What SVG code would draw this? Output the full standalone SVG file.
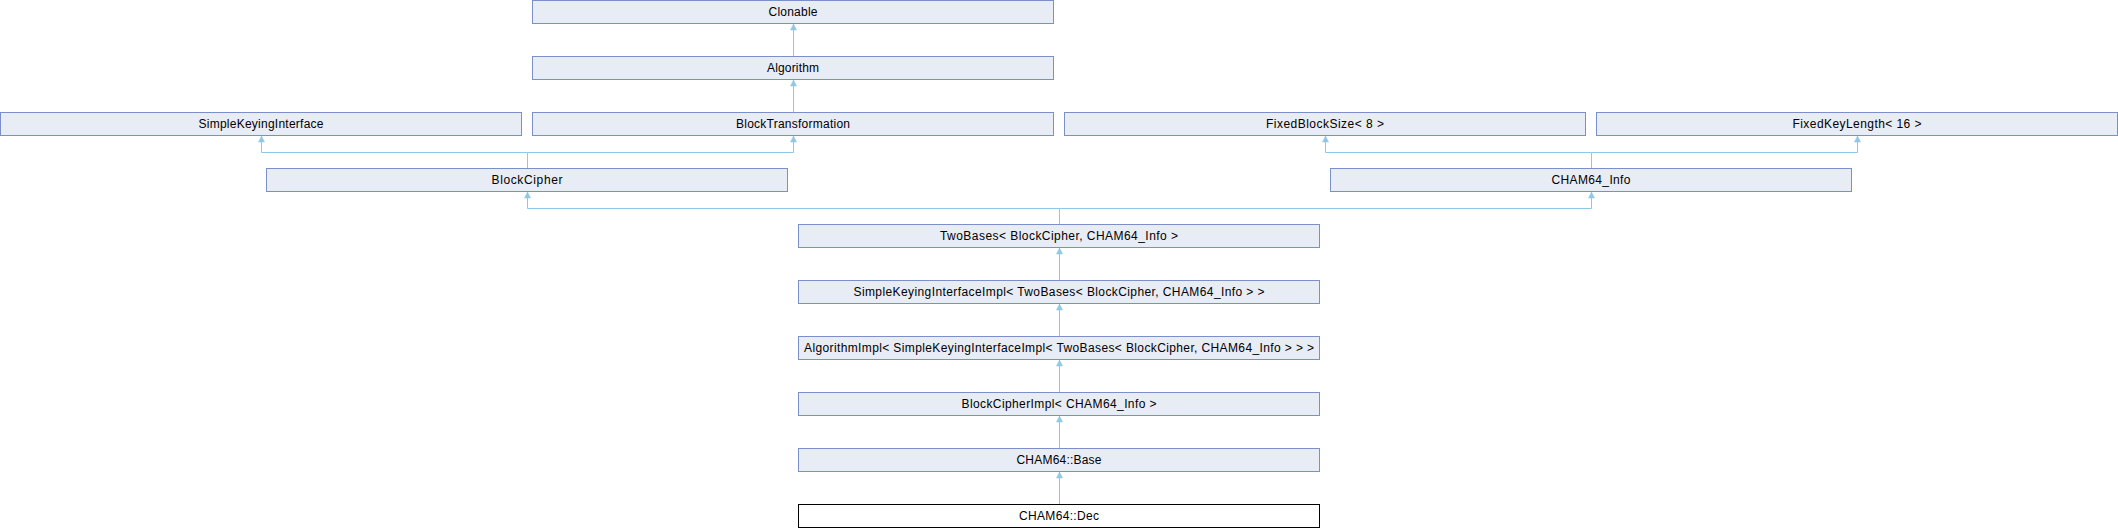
<svg xmlns="http://www.w3.org/2000/svg" width="2118" height="528" viewBox="0 0 2118 528">
<style>
.n rect{fill:#E8ECF4;stroke:#7B8FC8;stroke-width:1}
.n.cur rect{fill:#FFFFFF;stroke:#000000}
.n text{font-family:"Liberation Sans",Arial,sans-serif;font-size:12px;fill:#000;text-anchor:middle}
.e path{fill:none;stroke:#8DC8E8;stroke-width:1;marker-end:url(#ah)}
.e path.nm{marker-end:none}
</style>
<defs>
<marker id="ah" markerUnits="userSpaceOnUse" markerWidth="8" markerHeight="8" viewBox="0 0 8 8" refX="7" refY="4" orient="auto">
<path d="M1,1 L7,4 L1,7 z" fill="#8DC8E8" stroke="#8DC8E8" stroke-width="0.5"/>
</marker>
</defs>
<rect width="2118" height="528" fill="#FFFFFF"/>
<g id="connectors" class="e">
<path d="M793.5,56 V24"/>
<path d="M793.5,112 V80"/>
<path d="M527.5,168 V152.5 H261.5 V136"/>
<path d="M527.5,152.5 H793.5 V136"/>
<path d="M1591.5,168 V152.5 H1325.5 V136"/>
<path d="M1591.5,152.5 H1857.5 V136"/>
<path d="M1059.5,224 V208.5 H527.5 V192"/>
<path d="M1059.5,208.5 H1591.5 V192"/>
<path d="M1059.5,280 V248"/>
<path d="M1059.5,336 V304"/>
<path d="M1059.5,392 V360"/>
<path d="M1059.5,448 V416"/>
<path d="M1059.5,504 V472"/>
</g>
<g id="clonable" class="n"><rect x="532.5" y="0.5" width="521" height="23"/><text x="793" y="15.5" textLength="49">Clonable</text></g>
<g id="algorithm" class="n"><rect x="532.5" y="56.5" width="521" height="23"/><text x="793" y="71.5" textLength="52">Algorithm</text></g>
<g id="simplekeyinginterface" class="n"><rect x="0.5" y="112.5" width="521" height="23"/><text x="261" y="127.5" textLength="125">SimpleKeyingInterface</text></g>
<g id="blocktransformation" class="n"><rect x="532.5" y="112.5" width="521" height="23"/><text x="793" y="127.5" textLength="114">BlockTransformation</text></g>
<g id="fixedblocksize" class="n"><rect x="1064.5" y="112.5" width="521" height="23"/><text x="1325" y="127.5" textLength="118">FixedBlockSize&lt; 8 &gt;</text></g>
<g id="fixedkeylength" class="n"><rect x="1596.5" y="112.5" width="521" height="23"/><text x="1857" y="127.5" textLength="129">FixedKeyLength&lt; 16 &gt;</text></g>
<g id="blockcipher" class="n"><rect x="266.5" y="168.5" width="521" height="23"/><text x="527" y="183.5" textLength="71">BlockCipher</text></g>
<g id="cham64_info" class="n"><rect x="1330.5" y="168.5" width="521" height="23"/><text x="1591" y="183.5" textLength="79">CHAM64_Info</text></g>
<g id="twobases" class="n"><rect x="798.5" y="224.5" width="521" height="23"/><text x="1059" y="239.5" textLength="238">TwoBases&lt; BlockCipher, CHAM64_Info &gt;</text></g>
<g id="simplekeyinginterfaceimpl" class="n"><rect x="798.5" y="280.5" width="521" height="23"/><text x="1059" y="295.5" textLength="411">SimpleKeyingInterfaceImpl&lt; TwoBases&lt; BlockCipher, CHAM64_Info &gt; &gt;</text></g>
<g id="algorithmimpl" class="n"><rect x="798.5" y="336.5" width="521" height="23"/><text x="1059" y="351.5" textLength="510">AlgorithmImpl&lt; SimpleKeyingInterfaceImpl&lt; TwoBases&lt; BlockCipher, CHAM64_Info &gt; &gt; &gt;</text></g>
<g id="blockcipherimpl" class="n"><rect x="798.5" y="392.5" width="521" height="23"/><text x="1059" y="407.5" textLength="195">BlockCipherImpl&lt; CHAM64_Info &gt;</text></g>
<g id="cham64_base" class="n"><rect x="798.5" y="448.5" width="521" height="23"/><text x="1059" y="463.5" textLength="85">CHAM64::Base</text></g>
<g id="cham64_dec" class="n cur"><rect x="798.5" y="504.5" width="521" height="23"/><text x="1059" y="519.5" textLength="80">CHAM64::Dec</text></g>
</svg>
